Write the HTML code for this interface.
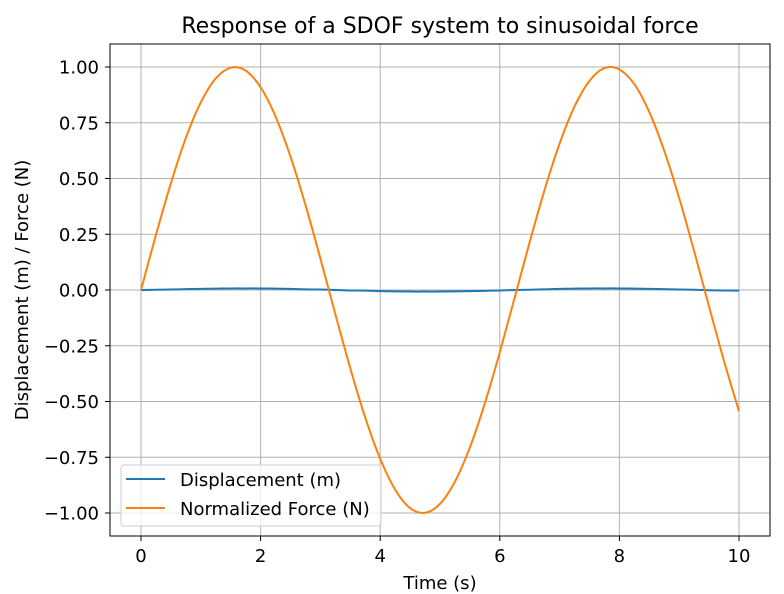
<!DOCTYPE html>
<html><head><meta charset="utf-8">
<style>
html,body{margin:0;padding:0;background:#fff;}
svg{display:block;font-family:"DejaVu Sans","Liberation Sans",sans-serif;}
</style></head>
<body>
<svg id="chart" width="784" height="594" viewBox="0 0 784 594">
  <rect width="784" height="594" fill="#fff"/>
  <g id="grid"></g>
  <g id="plot"></g>
  <rect x="110" y="44" width="660" height="492" fill="none" stroke="#000" stroke-width="1"/>
  <g id="xticks"></g>
  <g id="yticks"></g>
  <text x="440" y="33" text-anchor="middle" font-size="22" fill="#000">Response of a SDOF system to sinusoidal force</text>
  <text x="440" y="589" text-anchor="middle" font-size="18" fill="#000">Time (s)</text>
  <text transform="translate(28,290) rotate(-90)" text-anchor="middle" font-size="18" fill="#000">Displacement (m) / Force (N)</text>
  <g>
    <rect x="121" y="465" width="260" height="61" rx="3" fill="#fff" fill-opacity="0.8" stroke="#ccc"/>
    <g>
      <line x1="126" y1="479" x2="165" y2="479" stroke="#1f77b4" stroke-width="2"/>
      <text x="180" y="486" font-size="18" fill="#000">Displacement (m)</text>
    </g>
    <g>
      <line x1="126" y1="508" x2="165" y2="508" stroke="#ff7f0e" stroke-width="2"/>
      <text x="180" y="515" font-size="18" fill="#000">Normalized Force (N)</text>
    </g>
  </g>
</svg>
<script>
const times = [0,0.25,0.5,0.75,1,1.25,1.5,1.75,2,2.25,2.5,2.75,3,3.25,3.5,3.75,4,4.25,4.5,4.75,5,5.25,5.5,5.75,6,6.25,6.5,6.75,7,7.25,7.5,7.75,8,8.25,8.5,8.75,9,9.25,9.5,9.75,10];
const forceValues = [0,0.247,0.479,0.682,0.841,0.949,0.997,0.984,0.909,0.778,0.598,0.382,0.141,-0.108,-0.351,-0.572,-0.757,-0.895,-0.978,-0.999,-0.959,-0.859,-0.706,-0.508,-0.279,-0.033,0.215,0.450,0.657,0.823,0.938,0.995,0.989,0.923,0.798,0.624,0.412,0.174,-0.075,-0.319,-0.544];
const displacementValues = [0,0.001,0.002,0.004,0.005,0.006,0.007,0.007,0.007,0.006,0.005,0.003,0.002,0,-0.002,-0.003,-0.005,-0.006,-0.007,-0.007,-0.007,-0.006,-0.005,-0.004,-0.002,0,0.001,0.003,0.005,0.006,0.007,0.007,0.007,0.006,0.005,0.004,0.002,0.001,-0.001,-0.002,-0.003];
const xTickValues = [0,2,4,6,8,10];
const yTickValues = [1,0.75,0.5,0.25,0,-0.25,-0.5,-0.75,-1];
const yTickLabels = ["1.00","0.75","0.50","0.25","0.00","\u22120.25","\u22120.50","\u22120.75","\u22121.00"];

const NS = "http://www.w3.org/2000/svg";
const X0 = 141, XS = 59.8, Y0 = 290, YS = 223;
function xScale(v){ return X0 + v * XS; }
function yScale(v){ return Y0 - v * YS; }

const grid = document.getElementById('grid');
const xt = document.getElementById('xticks');
const yt = document.getElementById('yticks');
const plot = document.getElementById('plot');

xTickValues.forEach(v => {
  const x = xScale(v);
  const g = document.createElementNS(NS, 'line');
  g.setAttribute('x1', x); g.setAttribute('x2', x); g.setAttribute('y1', 44); g.setAttribute('y2', 536);
  g.setAttribute('stroke', '#b0b0b0'); g.setAttribute('stroke-width', '1');
  
  
  grid.appendChild(g);
  const t = document.createElementNS(NS, 'line');
  t.setAttribute('x1', x); t.setAttribute('x2', x); t.setAttribute('y1', 536); t.setAttribute('y2', 541);
  t.setAttribute('stroke', '#000');
  
  
  xt.appendChild(t);
  const l = document.createElementNS(NS, 'text');
  l.setAttribute('x', x); l.setAttribute('y', 562); l.setAttribute('text-anchor', 'middle');
  l.setAttribute('font-size', '18');
  l.textContent = v;
  
  
  xt.appendChild(l);
});

yTickValues.forEach((v, i) => {
  const y = yScale(v);
  const g = document.createElementNS(NS, 'line');
  g.setAttribute('x1', 110); g.setAttribute('x2', 770); g.setAttribute('y1', y); g.setAttribute('y2', y);
  g.setAttribute('stroke', '#b0b0b0'); g.setAttribute('stroke-width', '1');
  
  
  grid.appendChild(g);
  const t = document.createElementNS(NS, 'line');
  t.setAttribute('x1', 105); t.setAttribute('x2', 110); t.setAttribute('y1', y); t.setAttribute('y2', y);
  t.setAttribute('stroke', '#000');
  
  
  yt.appendChild(t);
  const l = document.createElementNS(NS, 'text');
  l.setAttribute('x', 99); l.setAttribute('y', y + 6.5); l.setAttribute('text-anchor', 'end');
  l.setAttribute('font-size', '18');
  l.textContent = yTickLabels[i];
  
  
  yt.appendChild(l);
});

function smoothPath(pts){
  let d = 'M' + pts[0][0].toFixed(2) + ',' + pts[0][1].toFixed(2);
  for (let i = 0; i < pts.length - 1; i++) {
    const p0 = pts[Math.max(i - 1, 0)], p1 = pts[i], p2 = pts[i + 1], p3 = pts[Math.min(i + 2, pts.length - 1)];
    const c1x = p1[0] + (p2[0] - p0[0]) / 6, c1y = p1[1] + (p2[1] - p0[1]) / 6;
    const c2x = p2[0] - (p3[0] - p1[0]) / 6, c2y = p2[1] - (p3[1] - p1[1]) / 6;
    d += ' C' + c1x.toFixed(2) + ',' + c1y.toFixed(2) + ' ' + c2x.toFixed(2) + ',' + c2y.toFixed(2) + ' ' + p2[0].toFixed(2) + ',' + p2[1].toFixed(2);
  }
  return d;
}
function drawLine(vals, color, name){
  const pts = times.map((t, i) => [xScale(t), yScale(vals[i])]);
  const p = document.createElementNS(NS, 'path');
  p.setAttribute('d', smoothPath(pts));
  p.setAttribute('fill', 'none'); p.setAttribute('stroke', color); p.setAttribute('stroke-width', '2');
  p.setAttribute('stroke-linejoin', 'round');
  
  
  plot.appendChild(p);
}
drawLine(displacementValues, '#1f77b4', 'displacement-line');
drawLine(forceValues, '#ff7f0e', 'force-line');
</script>
</body></html>
